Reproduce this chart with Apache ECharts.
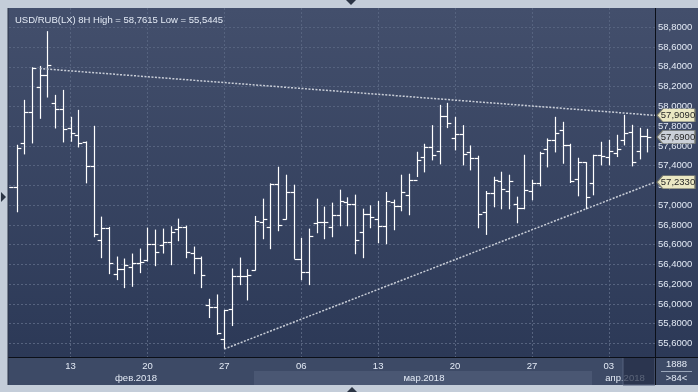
<!DOCTYPE html>
<html><head><meta charset="utf-8">
<style>html,body{margin:0;padding:0;background:#c4cdd9;}#c{width:698px;height:392px;}</style>
<script src="https://cdn.jsdelivr.net/npm/echarts@6/dist/echarts.min.js"></script>
</head><body><div id="c"></div>
<script>
const opens = [
57.1838,57.1838,57.6283,57.9414,58.1939,58.3152,58.0323,57.9717,57.7798,57.7125,
57.6350,57.3960,56.6485,56.7697,56.3051,56.3589,56.3758,56.4162,56.4498,56.6081,
56.5980,56.6316,56.7596,56.7798,56.5172,56.4667,55.9919,55.9650,55.6485,55.9515,
56.2848,56.2848,56.3455,56.8337,56.7798,57.2141,56.8606,57.1333,56.4566,56.3253,
56.8202,56.8337,56.7798,56.9010,57.0323,57.0155,56.7293,56.9145,56.8606,56.7899,
57.0323,56.9919,57.1030,57.2545,57.4869,57.5879,57.5475,57.9010,57.6788,57.7192,
57.5374,57.4801,56.9313,57.1232,57.2444,57.1434,57.0155,56.9717,57.1434,57.2242,
57.5677,57.6586,57.7630,57.6081,57.2646,57.4364,57.2242,57.5104,57.4902,57.5273,
57.6586,57.7360,57.5475,57.6990];
const highs = [
57.1838,57.6114,58.0660,58.3960,58.4094,58.7615,58.1165,58.1670,57.8943,57.9650,
57.6451,57.8034,56.8842,56.7798,56.4801,56.4599,56.5104,56.5609,56.7731,56.7529,
56.7630,56.7865,56.8640,56.7933,56.5811,56.4801,56.0525,56.0963,55.9414,56.3589,
56.4700,56.3522,56.8909,57.0660,57.2209,57.3892,57.3084,57.2074,56.6687,56.7630,
57.0660,56.9852,57.0256,57.1569,57.0795,57.1064,56.9650,56.9987,57.0424,57.1333,
57.0559,57.3084,57.3185,57.5407,57.6215,57.8101,58.0155,58.0357,57.8943,57.8101,
57.6047,57.5003,57.1434,57.2882,57.3387,57.3084,57.0862,57.5104,57.2579,57.5407,
57.6754,57.8943,57.8438,57.6215,57.4801,57.4364,57.5104,57.6418,57.6620,57.7125,
57.9145,57.8135,57.7832,57.7731];
const lows = [
57.1838,56.9279,57.5138,57.6249,57.8741,58.0896,57.7764,57.6350,57.6418,57.5845,
57.2209,56.6754,56.4633,56.3017,56.2411,56.1603,56.1737,56.3118,56.4296,56.3825,
56.5104,56.3926,56.6350,56.4633,56.3017,56.1603,55.8572,55.6889,55.5445,55.7764,
56.1906,56.0357,56.3387,56.6552,56.5542,56.7360,56.8539,56.4566,56.2411,56.1906,
56.7158,56.6552,56.6754,56.7865,56.7865,56.5037,56.4633,56.7663,56.6148,56.6047,
56.7461,56.9380,56.8976,57.2848,57.3320,57.4532,57.4128,57.7798,57.5542,57.4027,
57.3522,56.7663,56.6990,56.9785,56.9582,56.9582,56.8168,56.9582,57.0492,57.1906,
57.3825,57.5340,57.4195,57.2242,57.0896,56.9582,57.0997,57.4027,57.4027,57.4869,
57.6047,57.3926,57.4633,57.5340];
const closes = [
57.1838,57.5811,57.9414,58.3859,58.3152,58.4195,57.9717,57.7731,57.7293,57.6283,
57.3960,56.7091,56.7697,56.4162,56.3589,56.3960,56.4162,56.4263,56.6081,56.5273,
56.6316,56.7327,56.7798,56.5273,56.4667,56.2949,55.9650,55.7091,55.9347,56.2848,
56.2848,56.2949,56.8404,56.8606,57.2141,56.8000,57.1333,56.4566,56.3253,56.6889,
56.8337,56.8337,56.9010,57.0458,57.0155,56.6485,56.9145,56.8808,56.7899,57.0458,
56.9919,57.1333,57.2545,57.4566,57.5879,57.5071,57.9010,57.8303,57.7192,57.5172,
57.4801,56.9145,57.1232,57.2545,57.1636,57.2444,56.9717,57.1535,57.2242,57.5273,
57.6586,57.7293,57.6081,57.2444,57.4364,57.0828,57.5104,57.5003,57.5475,57.5677,
57.7293,57.4364,57.6990,57.6900];
const dayLabels = ['13','20','27','06','13','20','27','03'];
const dayLabelIdx = [8,18,28,38,48,58,68,78];
const monthLabels = ['фев.2018','мар.2018','апр.2018'];
const yTicks = [55.6,55.8,56.0,56.2,56.4,56.6,56.8,57.0,57.2,57.4,57.6,57.8,58.0,58.2,58.4,58.6,58.8];
const upperTrend = [[4,58.383],[84,57.909]];
const lowerTrend = [[28,55.5445],[84,57.233]];
const lastPrice = 57.69;
const barCount = 1888;
const visibleBars = 84;

const N = opens.length;
const cats = Array.from({length:N+1},(_,i)=>String(i));
const fmt = v => v.toFixed(4).replace('.', ',');
const ohlc = opens.map((o,i)=>[i,o,highs[i],lows[i],closes[i]]);
const FONT = '"Liberation Sans", Arial, sans-serif';
const TXT = '#e3eaf5';
const labelAt = {}; dayLabelIdx.forEach((d,k)=>labelAt[d]=dayLabels[k]);
const hi = Math.max(...highs), lo = Math.min(...lows);

function arrow(value, idx, fill){
  return {coord:[idx,value], value:value,
    symbol:'path://M0,6.5L6,0L40,0L40,13L6,13Z', symbolSize:[38,13], symbolOffset:[21,0],
    itemStyle:{color:fill,borderColor:'#76786a',borderWidth:0.8},
    label:{show:true,position:'inside',formatter:fmt(value),color:'#262626',fontSize:9.5,fontFamily:FONT,offset:[2,0]}};
}
const grad = new echarts.graphic.LinearGradient(0,0,0,1,[{offset:0,color:'#434f6c'},{offset:1,color:'#2c3957'}]);
const tStyle = (text,x,y,extra)=>({type:'text',x:x,y:y,z:20,style:Object.assign({text:text,fill:TXT,font:'9.5px '+FONT,textAlign:'center',textVerticalAlign:'middle'},extra||{})});

const chart = echarts.init(document.getElementById('c'));
chart.setOption({
  animation:false,
  backgroundColor:'#c4cdd9',
  title:{text:'USD/RUB(LX) 8H High = '+fmt(hi)+' Low = '+fmt(lo),left:10,top:10,
    textStyle:{color:TXT,fontSize:9.5,fontWeight:'normal',fontFamily:FONT}},
  grid:{left:9,right:43,top:8,bottom:35,containLabel:false},
  xAxis:{type:'category',data:cats,boundaryGap:false,
    axisLine:{show:false},axisTick:{show:false},
    axisLabel:{interval:(i)=>labelAt[i]!==undefined,formatter:(v,i)=>labelAt[i]||'',color:TXT,fontSize:9.5,fontFamily:FONT,margin:4},
    splitLine:{show:true,interval:(i)=>labelAt[i]!==undefined,lineStyle:{color:'#56637f',type:[2,2],width:1}}},
  yAxis:{type:'value',position:'right',min:55.4633,max:58.9957,scale:true,
    axisLine:{show:false},
    axisTick:{show:false,customValues:yTicks},
    axisLabel:{customValues:yTicks,formatter:fmt,color:TXT,fontSize:9.5,fontFamily:FONT,margin:3},
    splitLine:{show:true,customValues:yTicks,lineStyle:{color:'#56637f',type:[2,2],width:1}}},
  graphic:[
    {type:'rect',z:-10,shape:{x:8,y:8,width:690,height:349},style:{fill:grad}},
    {type:'rect',z:-10,shape:{x:8,y:357,width:690,height:28},style:{fill:'#3d4a66'}},
    {type:'rect',z:-9,shape:{x:254,y:371,width:338,height:14},style:{fill:'#4a5773'}},
    tStyle(monthLabels[0],136,378),
    tStyle(monthLabels[1],424,378),
    tStyle(monthLabels[2],625,378),
    {type:'rect',z:21,shape:{x:623,y:357.5,width:32,height:27.5},style:{fill:'rgba(36,46,70,0.72)',stroke:'#56637e',lineWidth:1}},
    tStyle(String(barCount),676.5,364),
    {type:'line',z:20,shape:{x1:661,y1:371.5,x2:692,y2:371.5},style:{stroke:'#9aa6ba',lineWidth:1}},
    tStyle('>'+visibleBars+'<',676.5,378),
    {type:'line',z:22,shape:{x1:655.5,y1:8,x2:655.5,y2:385},style:{stroke:'#0b0f18',lineWidth:1}},
    {type:'line',z:22,shape:{x1:8,y1:357.5,x2:698,y2:357.5},style:{stroke:'#0b0f18',lineWidth:1}},
    {type:'line',z:22,shape:{x1:8,y1:8,x2:8,y2:385},style:{stroke:'#2a3346',lineWidth:1}},
    {type:'polygon',z:22,shape:{points:[[346,0],[356,0],[351,5]]},style:{fill:'#2b3444'}},
    {type:'polygon',z:22,shape:{points:[[347,392],[357,392],[352,387]]},style:{fill:'#2b3444'}},
    {type:'polygon',z:22,shape:{points:[[1,192],[1,202],[6,197]]},style:{fill:'#2b3444'}}
  ],
  series:[
    {type:'custom',name:'USD/RUB',data:ohlc,clip:true,z:3,
      encode:{x:0,y:[1,2,3,4]},
      renderItem:(params,api)=>{
        const x=api.value(0);
        const o=api.coord([x,api.value(1)]), h=api.coord([x,api.value(2)]),
              l=api.coord([x,api.value(3)]), c=api.coord([x,api.value(4)]);
        const w=api.size([1,0])[0]*0.5;
        const px=Math.round(o[0])+0.5;
        const st={stroke:'#ffffff',lineWidth:1.2};
        return {type:'group',children:[
          {type:'line',shape:{x1:px,y1:h[1],x2:px,y2:l[1]},style:st},
          {type:'line',shape:{x1:px-w,y1:Math.round(o[1])+0.5,x2:px,y2:Math.round(o[1])+0.5},style:st},
          {type:'line',shape:{x1:px,y1:Math.round(c[1])+0.5,x2:px+w,y2:Math.round(c[1])+0.5},style:st}
        ]};
      },
      markPoint:{silent:true,animation:false,data:[arrow(lastPrice,N,'#cbd0d8')]}
    },
    {type:'line',data:upperTrend,symbol:'none',z:4,clip:false,
      lineStyle:{color:'#c9ced8',width:1.5,type:[2,1.5]},
      markPoint:{silent:true,animation:false,data:[arrow(upperTrend[1][1],upperTrend[1][0],'#ebe8c3')]}},
    {type:'line',data:lowerTrend,symbol:'none',z:4,clip:false,
      lineStyle:{color:'#c9ced8',width:1.5,type:[2,1.5]},
      markPoint:{silent:true,animation:false,data:[arrow(lowerTrend[1][1],lowerTrend[1][0],'#ebe8c3')]}}
  ]
});
</script></body></html>
